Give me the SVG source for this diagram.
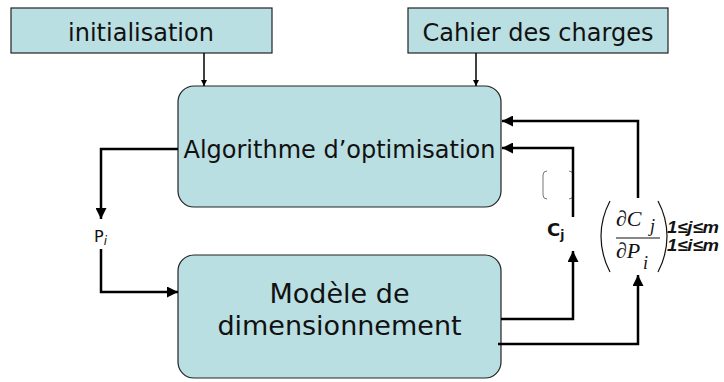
<svg xmlns="http://www.w3.org/2000/svg" width="724" height="382" viewBox="0 0 724 382">
<defs>
<style>
.box{fill:#b9dfe2;stroke:#222;stroke-width:1.2}
.t{font-family:"DejaVu Sans",Verdana,sans-serif;fill:#111;text-anchor:middle}
.thin{fill:none;stroke:#000;stroke-width:1.5}
.thick{fill:none;stroke:#000;stroke-width:2.5}
.m{font-family:"Liberation Serif","Times New Roman",serif;font-style:italic;fill:#111}
.idx{font-family:"Liberation Sans",Arial,sans-serif;font-weight:bold;font-style:italic;font-size:16px;fill:#111}
</style>
<marker id="as" viewBox="0 0 10 10" refX="10" refY="5" markerWidth="4" markerHeight="4" orient="auto" markerUnits="strokeWidth"><path d="M0,0 L10,5 L0,10 Z" fill="#000"/></marker>
<marker id="al" viewBox="0 0 10 10" refX="10" refY="5" markerWidth="4.4" markerHeight="4.4" orient="auto" markerUnits="strokeWidth"><path d="M0,0 L10,5 L0,10 Z" fill="#000"/></marker>
</defs>
<g id="init"><rect class="box" x="11" y="8" width="261" height="45"/><text class="t" x="141" y="41" font-size="24">initialisation</text></g>
<g id="cahier"><rect class="box" x="408" y="8" width="260" height="45"/><text class="t" x="538" y="41" font-size="24">Cahier des charges</text></g>
<g id="algo"><rect class="box" x="178" y="86" width="323" height="121" rx="16"/><text class="t" x="339.5" y="158" font-size="24">Algorithme d’optimisation</text></g>
<g id="modele"><rect class="box" x="178" y="255" width="323" height="123" rx="16"/><text class="t" x="339.5" y="303" font-size="27">Modèle de</text><text class="t" x="339.5" y="335" font-size="27">dimensionnement</text></g>
<g id="pi"><text x="94" y="242" font-family="DejaVu Sans,Verdana,sans-serif" font-size="16" fill="#111">P<tspan font-style="italic" font-size="12" dy="3">i</tspan></text></g>
<g id="cj"><text x="547" y="236" font-family="DejaVu Sans,Verdana,sans-serif" font-weight="bold" font-size="18" fill="#111">C<tspan font-size="12" dy="3">j</tspan></text>
<path d="M547,171 Q543,171 543,175 V195 Q543,199 547,199 M569,171 Q573,171 573,175 V195 Q573,199 569,199" fill="none" stroke="#777" stroke-width="1"/></g>
<g id="matrix">
<path d="M610,201 Q601,218 601,236 Q601,255 610,272" fill="none" stroke="#111" stroke-width="1.2"/>
<path d="M658,201 Q667,218 667,236 Q667,255 658,272" fill="none" stroke="#111" stroke-width="1.2"/>
<line x1="616" y1="238" x2="660" y2="238" stroke="#111" stroke-width="1"/>
<text class="m" x="616" y="226" font-size="22">∂C</text><text class="m" x="650" y="232" font-size="18">j</text>
<text class="m" x="616" y="258" font-size="22">∂P</text><text class="m" x="643" y="269" font-size="18">i</text>
<text class="idx" x="667" y="233" textLength="52" lengthAdjust="spacingAndGlyphs">1≤j≤m</text><text class="idx" x="667" y="251" textLength="52" lengthAdjust="spacingAndGlyphs">1≤i≤m</text>
</g>
<g id="connectors">
<line class="thin" x1="204" y1="53" x2="204" y2="86" marker-end="url(#as)"/>
<line class="thin" x1="476" y1="53" x2="476" y2="86" marker-end="url(#as)"/>
<path class="thick" d="M178,149 H101 V219" marker-end="url(#al)"/>
<path class="thick" d="M101,249 V292 H178" marker-end="url(#al)"/>
<path class="thick" d="M501,319 H573 V251" marker-end="url(#al)"/>
<path class="thick" d="M573,217 V148 H502" marker-end="url(#al)"/>
<path class="thick" d="M498,344 H638 V275" marker-end="url(#al)"/>
<path class="thick" d="M638,198 V121 H502" marker-end="url(#al)"/>
</g>
</svg>
